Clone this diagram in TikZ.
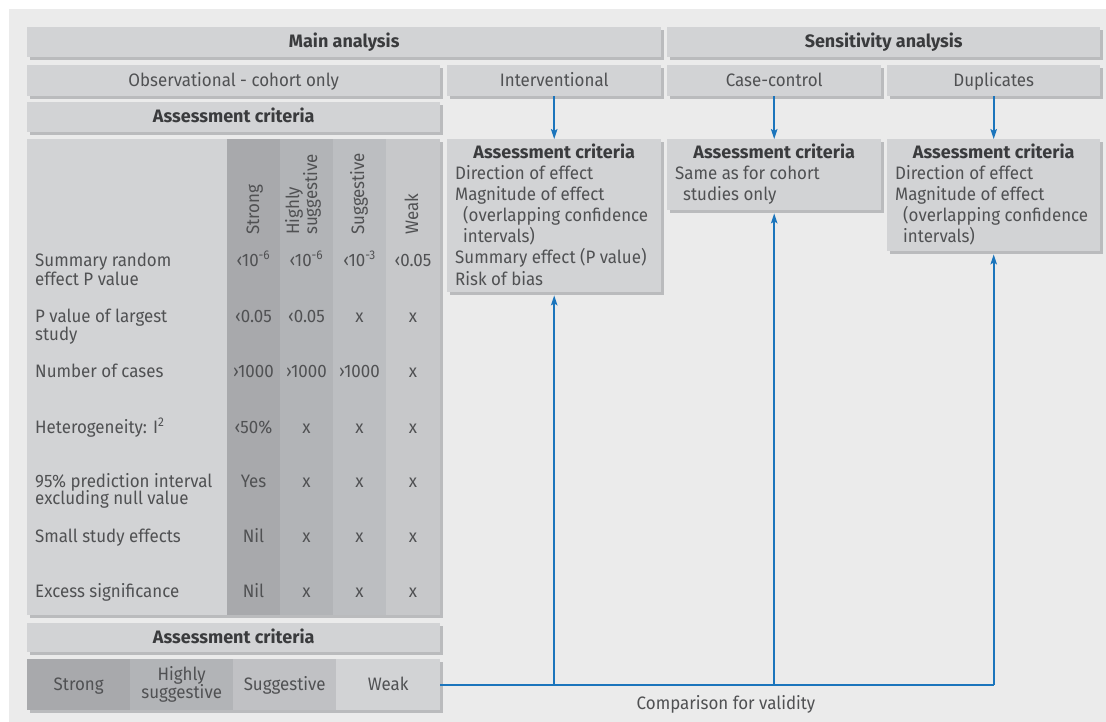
\documentclass[tikz,border=0pt]{standalone}
\usepackage{fontspec}
\setmainfont{Fira Sans}[FakeStretch=0.94, BoldFeatures={FakeStretch=1.0}]
\usetikzlibrary{shadows,arrows.meta,calc}
\definecolor{panel}{HTML}{EBEBEB}
\definecolor{boxc}{HTML}{D2D3D5}
\definecolor{shadc}{HTML}{BABBBD}
\definecolor{cstrong}{HTML}{A8A9AC}
\definecolor{chigh}{HTML}{B2B4B7}
\definecolor{csugg}{HTML}{BCBEC1}
\definecolor{cweak}{HTML}{C7C8CA}
\definecolor{lsugg}{HTML}{C0C1C4}
\definecolor{txtc}{HTML}{505153}
\definecolor{boldc}{HTML}{3A3B3D}
\definecolor{blu}{HTML}{1B75BC}
\begin{document}
\begin{tikzpicture}[x=1pt,y=-1pt,
  txt/.style={font=\fontsize{18}{18}\selectfont, text=txtc, inner sep=0pt},
  hd/.style={font=\fontsize{18}{18}\selectfont\bfseries, text=boldc},
  pbox/.style={txt, fill=boxc, draw=none, anchor=north west,
    general shadow={fill=shadc, shadow xshift=3pt, shadow yshift=-3pt}},
  one/.style={text height=11.5pt, text depth=0pt},
  seg/.style={txt, draw=none, anchor=north west, minimum width=103pt, minimum height=51pt},
  lab/.style={txt, anchor=base west},
  val/.style={txt, anchor=base},
  rot/.style={txt, anchor=base west, rotate=90},
  conn/.style={draw=blu, line width=1.6pt},
  arr/.style={conn, -{Stealth[length=10pt,width=6.5pt,inset=2pt]}}
]
\useasboundingbox (0,0) rectangle (1106,722);
\fill[white] (0,0) rectangle (1106,722);
\fill[panel] (9,9) rectangle (1106,722);

% top rows
\node[pbox, one, hd, minimum width=634pt, minimum height=30pt] (main) at (27,27) {Main analysis};
\node[pbox, one, hd, minimum width=433pt, minimum height=30pt] (sens) at (667,27) {Sensitivity analysis};
\node[pbox, one, minimum width=413pt, minimum height=31pt] (obs) at (27,65) {Observational - cohort only};
\node[pbox, one, minimum width=214pt, minimum height=31pt] (intv) at (447,65) {Interventional};
\node[pbox, one, minimum width=214pt, minimum height=31pt] (cc) at (667,65) {Case-control};
\node[pbox, one, minimum width=213pt, minimum height=31pt] (dup) at (887,65) {Duplicates};
\node[pbox, one, hd, minimum width=413pt, minimum height=30pt] (acl) at (27,102) {Assessment criteria};

% main table
\node[pbox, minimum width=413pt, minimum height=476pt] (tab) at (27,139) {};
\fill[cstrong] (227,139) rectangle (280,615);
\fill[chigh] (280,139) rectangle (333,615);
\fill[csugg] (333,139) rectangle (386,615);
\fill[cweak] (386,139) rectangle (440,615);

\node[rot] (hs) at (259,235) {Strong};
\node[rot] (hh1) at (299,235) {Highly};
\node[rot] (hh2) at (317,235) {suggestive};
\node[rot] (hg) at (364,235) {Suggestive};
\node[rot] (hw) at (418,235) {Weak};

\node[lab] (l1a) at (35,266) {Summary random};
\node[lab] (l1b) at (35,285) {effect P value};
\node[lab] (l2a) at (35,322) {P value of largest};
\node[lab] (l2b) at (35,340) {study};
\node[lab] (l3) at (35,377) {Number of cases};
\node[lab] (l4) at (35,433) {Heterogeneity: I\textsuperscript{2}};
\node[lab] (l5a) at (35,487) {95\% prediction interval};
\node[lab] (l5b) at (35,504) {excluding null value};
\node[lab] (l6) at (35,542) {Small study effects};
\node[lab] (l7) at (35,597) {Excess significance};

\node[val] (v11) at (253.5,266) {‹10\textsuperscript{-6}};
\node[val] (v12) at (306.5,266) {‹10\textsuperscript{-6}};
\node[val] (v13) at (359.5,266) {‹10\textsuperscript{-3}};
\node[val] (v14) at (413,266) {‹0.05};
\node[val] (v21) at (253.5,322) {‹0.05};
\node[val] (v22) at (306.5,322) {‹0.05};
\node[val] (v23) at (359.5,322) {x};
\node[val] (v24) at (413,322) {x};
\node[val] (v31) at (253.5,377) {›1000};
\node[val] (v32) at (306.5,377) {›1000};
\node[val] (v33) at (359.5,377) {›1000};
\node[val] (v34) at (413,377) {x};
\node[val] (v41) at (253.5,433) {‹50\%};
\node[val] (v42) at (306.5,433) {x};
\node[val] (v43) at (359.5,433) {x};
\node[val] (v44) at (413,433) {x};
\node[val] (v51) at (253.5,487) {Yes};
\node[val] (v52) at (306.5,487) {x};
\node[val] (v53) at (359.5,487) {x};
\node[val] (v54) at (413,487) {x};
\node[val] (v61) at (253.5,542) {Nil};
\node[val] (v62) at (306.5,542) {x};
\node[val] (v63) at (359.5,542) {x};
\node[val] (v64) at (413,542) {x};
\node[val] (v71) at (253.5,597) {Nil};
\node[val] (v72) at (306.5,597) {x};
\node[val] (v73) at (359.5,597) {x};
\node[val] (v74) at (413,597) {x};

% bottom legend
\node[pbox, one, hd, minimum width=413pt, minimum height=29pt] (acb) at (27,623) {Assessment criteria};
\node[pbox, minimum width=413pt, minimum height=51pt] (legend) at (27,659) {};
\node[seg, one, fill=cstrong] (gs) at (27,659) {Strong};
\node[seg, fill=chigh, align=center] (gh) at (130,659) {Highly\\suggestive};
\node[seg, one, fill=lsugg] (gg) at (233,659) {Suggestive};
\node[seg, one, fill=boxc, minimum width=104pt] (gw) at (336,659) {Weak};

% right criteria boxes
\node[pbox, minimum width=214pt, minimum height=153pt] (iac) at (447,139) {};
\node[pbox, minimum width=214pt, minimum height=71pt] (cac) at (667,139) {};
\node[pbox, minimum width=213pt, minimum height=112pt] (dac) at (887,139) {};

\node[txt, hd, anchor=base] (it) at (iac.north |- 0,159) {Assessment criteria};
\node[lab] (i1) at (455,180) {Direction of effect};
\node[lab] (i2) at (455,201) {Magnitude of effect};
\node[lab] (i3) at (463,222) {(overlapping confidence};
\node[lab] (i4) at (463,243) {intervals)};
\node[lab] (i5) at (455,264) {Summary effect (P value)};
\node[lab] (i6) at (455,285) {Risk of bias};

\node[txt, hd, anchor=base] (ct) at (cac.north |- 0,159) {Assessment criteria};
\node[lab] (c1) at (675,180) {Same as for cohort};
\node[lab] (c2) at (683,201) {studies only};

\node[txt, hd, anchor=base] (dt) at (dac.north |- 0,159) {Assessment criteria};
\node[lab] (d1) at (895,180) {Direction of effect};
\node[lab] (d2) at (895,201) {Magnitude of effect};
\node[lab] (d3) at (903,222) {(overlapping confidence};
\node[lab] (d4) at (903,243) {intervals)};

% connectors
\draw[arr] (intv.south) -- (iac.north);
\draw[arr] (cc.south) -- (cac.north);
\draw[arr] (dup.south) -- (dac.north);

\coordinate (j1) at (iac.south |- legend.east);
\coordinate (j2) at (cac.south |- legend.east);
\coordinate (j3) at (dac.south |- legend.east);
\draw[conn] (legend.east) -- (j3);
\draw[arr] (j3) -- ([yshift=-3pt]dac.south);
\draw[arr] (j1) -- ([yshift=-3pt]iac.south);
\draw[arr] (j2) -- ([yshift=-3pt]cac.south);

\node[val] (cmp) at (726,709) {Comparison for validity};
\end{tikzpicture}
\end{document}
